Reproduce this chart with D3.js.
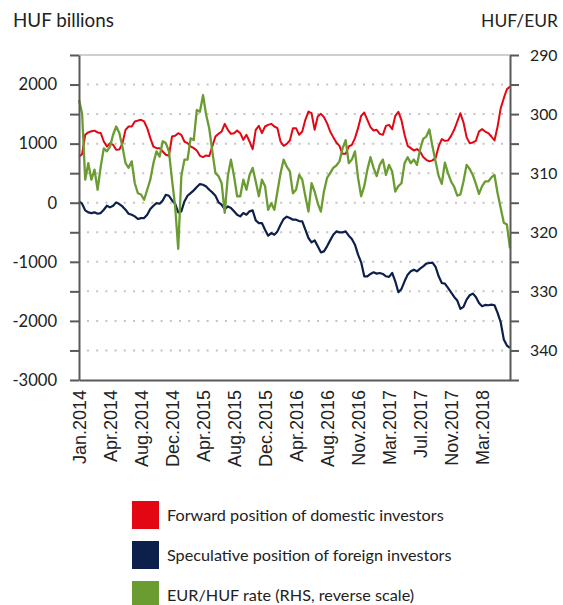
<!DOCTYPE html>
<html>
<head>
<meta charset="utf-8">
<script src="https://cdn.jsdelivr.net/npm/d3@7"></script>
<style>
  html, body { margin: 0; padding: 0; background: #fff; }
  svg { display: block; }
</style>
</head>
<body>
<svg id="chart" width="563" height="605"></svg>
<script>
// Category labels on the time axis (one every 10 observations)
const xLabels = ["Jan.2014","Apr.2014","Aug.2014","Dec.2014","Apr.2015","Aug.2015","Dec.2015",
  "Apr.2016","Aug.2016","Nov.2016","Mar.2017","Jul.2017","Nov.2017","Mar.2018"];
const labelEvery = 10;

// Forward position of domestic investors (HUF billions)
const forwardDomestic = [
  780, 820, 1150, 1190, 1210, 1220, 1190, 1180, 1036, 950,
  1008, 980, 895, 900, 1000, 1233, 1290, 1290, 1375, 1390,
  1403, 1375, 1262, 1093, 950, 924, 924, 867, 811, 794,
  1121, 1132, 1177, 1149, 1036, 1008, 952, 924, 884, 794,
  772, 800, 789, 952, 1121, 1166, 1205, 1335, 1234, 1166,
  1177, 1222, 1177, 1065, 1149, 1036, 906, 1234, 1301, 1177,
  1290, 1318, 1335, 1290, 1262, 1036, 963, 997, 1053, 1262,
  1262, 1149, 1205, 1403, 1543, 1515, 1234, 1459, 1504, 1448,
  1347, 1205, 1110, 1020, 963, 828, 828, 952, 980, 1093,
  1262, 1470, 1526, 1403, 1279, 1222, 1234, 1166, 1149, 1301,
  1318, 1245, 1470, 1538, 1397, 1149, 963, 924, 884, 907,
  867, 772, 727, 699, 716, 755, 952, 1076, 1048, 1053,
  1132, 1234, 1375, 1515, 1357, 1110, 1008, 1020, 1048, 1205,
  1245, 1205, 1177, 1121, 1053, 1290, 1600, 1769, 1921, 1965
];

// Speculative position of foreign investors (HUF billions)
const speculativeForeign = [
  22, -17, -129, -163, -175, -163, -186, -175, -118, -51,
  -79, -51, 6, -23, -62, -118, -186, -203, -231, -276,
  -260, -260, -203, -107, -51, -6, -17, 39, 135, 118,
  39, -17, -163, -146, 22, 118, 163, 209, 265, 316,
  304, 276, 220, 175, 118, 6, -34, -107, -62, -90,
  -146, -203, -231, -175, -203, -146, -130, -298, -344, -344,
  -456, -558, -513, -541, -485, -372, -276, -237, -259, -287,
  -287, -310, -315, -456, -597, -670, -637, -738, -840, -823,
  -738, -637, -541, -485, -501, -501, -485, -558, -614, -710,
  -879, -1008, -1245, -1245, -1206, -1178, -1200, -1189, -1206, -1245,
  -1256, -1189, -1330, -1516, -1459, -1330, -1217, -1161, -1133, -1161,
  -1116, -1076, -1031, -1020, -1014, -1087, -1245, -1358, -1369, -1442,
  -1516, -1594, -1656, -1797, -1763, -1639, -1566, -1538, -1594, -1696,
  -1752, -1730, -1735, -1724, -1735, -1865, -2023, -2315, -2417, -2456
];

// EUR/HUF exchange rate (right-hand scale, reversed)
const eurHuf = [
  297.6, 299.9, 311.1, 308.3, 311.1, 309.4, 312.8, 308.9, 305.8, 306.3,
  305.5, 303.5, 302.1, 303.2, 305.5, 308.3, 309.1, 308.0, 311.7, 313.4,
  313.6, 314.5, 312.8, 311.1, 308.3, 306.3, 307.2, 304.6, 304.9, 306.3,
  311.1, 315.6, 322.8, 310.5, 307.7, 307.7, 304.1, 304.4, 299.3, 299.6,
  296.8, 300.1, 302.4, 306.3, 310.0, 310.5, 311.7, 316.7, 310.5, 307.7,
  310.5, 313.9, 313.9, 311.1, 312.8, 310.3, 309.1, 311.4, 313.9, 311.1,
  312.2, 316.2, 315.1, 316.2, 313.1, 310.0, 307.7, 308.9, 309.7, 313.4,
  312.8, 310.3, 311.1, 313.9, 316.5, 311.7, 313.1, 315.1, 316.5, 313.1,
  310.8, 310.0, 309.1, 308.7, 308.0, 305.8, 304.4, 308.3, 307.7, 306.3,
  310.8, 313.9, 312.2, 309.4, 307.3, 309.1, 310.5, 308.6, 307.7, 310.3,
  308.6, 309.7, 313.1, 312.2, 311.7, 308.3, 307.3, 308.3, 307.7, 308.6,
  306.0, 304.2, 303.8, 302.6, 305.5, 308.0, 310.5, 311.8, 308.2, 310.0,
  311.4, 312.3, 313.8, 313.6, 311.4, 308.6, 309.3, 310.3, 311.8, 313.5,
  312.2, 311.4, 311.4, 310.7, 310.3, 313.4, 315.9, 318.4, 318.7, 322.7
];

// Axis ticks
const leftTicks = [-3000, -2500, -2000, -1500, -1000, -500, 0, 500, 1000, 1500, 2000, 2500];
const leftLabelled = [-3000, -2000, -1000, 0, 1000, 2000];
const rightTicks = [290, 295, 300, 305, 310, 315, 320, 325, 330, 335, 340, 345];
const rightLabelled = [290, 300, 310, 320, 330, 340];

const legendItems = [
  { label: "Forward position of domestic investors", color: "#e30613" },
  { label: "Speculative position of foreign investors", color: "#0d1f4b" },
  { label: "EUR/HUF rate (RHS, reverse scale)", color: "#6a9c32" }
];

const colors = { red: "#e30613", navy: "#0d1f4b", green: "#6a9c32" };
const axisColor = "#595959";
const gridColor = "#c4c4c4";
const labelFont = "Lato, 'Open Sans', sans-serif";

const svg = d3.select("#chart");
const plot = { left: 79, right: 510, top: 55, bottom: 380 };

const x = d3.scaleLinear().domain([0, forwardDomestic.length - 1]).range([plot.left, plot.right]);
const yL = d3.scaleLinear().domain([-3000, 2500]).range([plot.bottom, plot.top]);
const yR = d3.scaleLinear().domain([290, 345]).range([plot.top, plot.bottom]);

// Set a font size so that a text spans a given width
function fitWidth(sel, width) {
  const base = 20;
  sel.attr("font-size", base);
  const w = sel.node().getComputedTextLength();
  const size = base * width / w;
  sel.attr("font-size", size);
  return size;
}

// Dotted horizontal gridlines
svg.append("g")
  .selectAll("line")
  .data(leftTicks.filter(v => v > -3000 && v < 2500))
  .join("line")
  .attr("x1", plot.left + 8).attr("x2", plot.right - 1)
  .attr("y1", d => yL(d)).attr("y2", d => yL(d))
  .attr("stroke", gridColor).attr("stroke-width", 2)
  .attr("stroke-dasharray", "2,7.2");

// Top frame line
svg.append("line")
  .attr("x1", plot.left).attr("x2", plot.right)
  .attr("y1", plot.top).attr("y2", plot.top)
  .attr("stroke", "#bfbfbf").attr("stroke-width", 1.5);

// Series lines
const lineL = d3.line().x((d, i) => x(i)).y(d => yL(d));
const lineR = d3.line().x((d, i) => x(i)).y(d => yR(d));

svg.append("path").datum(forwardDomestic)
  .attr("d", lineL).attr("fill", "none")
  .attr("stroke", colors.red).attr("stroke-width", 2).attr("stroke-linejoin", "round");
svg.append("path").datum(speculativeForeign)
  .attr("d", lineL).attr("fill", "none")
  .attr("stroke", colors.navy).attr("stroke-width", 2.2).attr("stroke-linejoin", "round");
svg.append("path").datum(eurHuf)
  .attr("d", lineR).attr("fill", "none")
  .attr("stroke", colors.green).attr("stroke-width", 2.3).attr("stroke-linejoin", "round");

// Left axis
const gL = svg.append("g")
  .attr("transform", `translate(${plot.left},0)`)
  .call(d3.axisLeft(yL).tickValues(leftTicks).tickSize(9).tickSizeOuter(0).tickPadding(13)
    .tickFormat(d => leftLabelled.includes(d) ? String(d) : ""));

// Right axis
const gR = svg.append("g")
  .attr("transform", `translate(${plot.right},0)`)
  .call(d3.axisRight(yR).tickValues(rightTicks).tickSize(9).tickSizeOuter(0).tickPadding(11)
    .tickFormat(d => rightLabelled.includes(d) ? String(d) : ""));

[gL, gR].forEach(g => {
  g.select(".domain").attr("stroke", axisColor).attr("stroke-width", 2);
  g.selectAll(".tick line").attr("stroke", axisColor).attr("stroke-width", 2);
  g.selectAll(".tick text").attr("fill", "#222").attr("font-family", labelFont);
});
{
  const probe = gL.selectAll(".tick text").filter(d => d === 2000);
  const size = fitWidth(probe, 38.5);
  gL.selectAll(".tick text").attr("font-size", size);
  gR.selectAll(".tick text").attr("font-size", size * 0.95);
}

// Bottom (time) axis
const gB = svg.append("g")
  .attr("transform", `translate(0,${plot.bottom})`)
  .call(d3.axisBottom(x)
    .tickValues(xLabels.map((d, i) => i * labelEvery))
    .tickSize(0).tickSizeOuter(0)
    .tickFormat((d, i) => xLabels[i]));
gB.select(".domain").attr("stroke", axisColor).attr("stroke-width", 2);
gB.selectAll(".tick text")
  .attr("font-family", "'Liberation Sans', Arial, sans-serif")
  .attr("font-size", 18)
  .attr("fill", "#222")
  .attr("text-anchor", "end")
  .attr("transform", "rotate(-90)")
  .attr("x", -10).attr("y", 0).attr("dy", "0.35em");

// Axis titles
const tL = svg.append("text").text("HUF billions")
  .attr("x", 13).attr("y", 27).attr("fill", "#222").attr("font-family", labelFont);
fitWidth(tL, 101);
const tR = svg.append("text").text("HUF/EUR")
  .attr("x", 558).attr("y", 27).attr("text-anchor", "end").attr("fill", "#222").attr("font-family", labelFont);
fitWidth(tR, 77);

// Legend
const legend = svg.append("g");
const rows = legend.selectAll("g").data(legendItems).join("g")
  .attr("transform", (d, i) => `translate(132,${501 + i * 40})`);
rows.append("rect").attr("width", 27).attr("height", 28).attr("fill", d => d.color);
const lt = rows.append("text").text(d => d.label)
  .attr("x", 35).attr("y", 14).attr("dy", "0.35em")
  .attr("fill", "#222").attr("font-family", labelFont);
{
  const size = fitWidth(d3.select(lt.nodes()[0]), 277);
  lt.attr("font-size", size);
}
</script>
</body>
</html>
